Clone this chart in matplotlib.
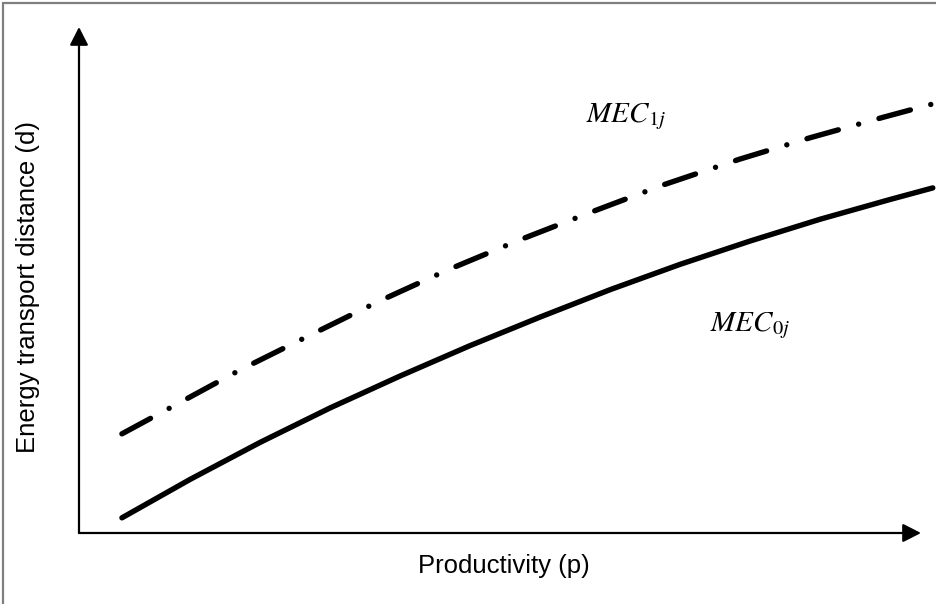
import matplotlib.pyplot as plt
from matplotlib.patches import Rectangle

# Conceptual curves: productivity (p) vs energy transport distance (d), arbitrary units 0-10
p_mec0 = [0.51, 1.32, 2.15, 2.98, 3.81, 4.64, 5.48, 6.31, 7.14, 7.97, 8.80, 9.63, 10.14]
d_mec0 = [0.30, 1.06, 1.79, 2.47, 3.10, 3.70, 4.27, 4.81, 5.31, 5.77, 6.20, 6.59, 6.82]

p_mec1 = [0.51, 1.10, 1.91, 2.72, 3.55, 4.38, 5.23, 6.08, 6.94, 7.85, 8.68, 9.56, 10.14]
d_mec1 = [1.96, 2.49, 3.22, 3.89, 4.57, 5.20, 5.79, 6.34, 6.88, 7.39, 7.81, 8.22, 8.48]

x_label = "Productivity (p)"
y_label = "Energy transport distance (d)"
label_mec0 = r"$MEC_{0j}$"
label_mec1 = r"$MEC_{1j}$"

W, H = 937, 604
plt.rcParams['mathtext.fontset'] = 'stix'
plt.rcParams['font.family'] = ['Liberation Sans', 'DejaVu Sans']

fig = plt.figure(figsize=(W / 100, H / 100), dpi=100)
fig.patch.set_facecolor('white')

# grey frame round the picture (only top and left edges visible)
fig.patches.append(Rectangle((3 / W, -0.1), 1.2, 1 - 3 / H + 0.1, transform=fig.transFigure,
                             fill=False, edgecolor='#7f7f7f', linewidth=1.6))

ax = fig.add_axes([79 / W, (H - 533) / H, (921 - 79) / W, (533 - 27) / H])
ax.set_xlim(0, 10)
ax.set_ylim(0, 10)
for s in ax.spines.values():
    s.set_visible(False)
ax.set_xticks([])
ax.set_yticks([])
ax.patch.set_alpha(0)

# axes with arrow heads
arrow = dict(arrowstyle='-|>,head_length=1.1,head_width=0.56', color='black',
             lw=1.6, mutation_scale=10, shrinkA=0, shrinkB=0)
ax.annotate('', xy=(0, 1), xytext=(0, 0), xycoords='axes fraction', arrowprops=arrow)
ax.annotate('', xy=(1, 0), xytext=(0, 0), xycoords='axes fraction', arrowprops=arrow)

ax.plot(p_mec0, d_mec0, color='black', lw=3.9, solid_capstyle='round',
        solid_joinstyle='round', clip_on=False)
line1, = ax.plot(p_mec1, d_mec1, color='black', lw=3.9, dash_capstyle='round',
                 solid_joinstyle='round', clip_on=False)
line1.set_dashes((6.0, 3.9, 0.001, 3.9))

fig.text(586 / W, 1 - 122 / H, label_mec1, fontsize=21, ha='left', va='baseline')
fig.text(710 / W, 1 - 331 / H, label_mec0, fontsize=21, ha='left', va='baseline')

fig.text(504 / W, 1 - 566 / H, x_label, fontsize=18.5, ha='center', va='center')
fig.text(28 / W, 1 - 287 / H, y_label, fontsize=18.5, ha='center', va='center', rotation=90)

fig.savefig('out.png', dpi=100)
